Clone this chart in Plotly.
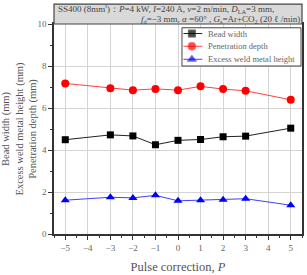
import plotly.graph_objects as go

pulse = [-5, -3, -2, -1, 0, 1, 2, 3, 5]
bead_width = [4.49, 4.72, 4.67, 4.25, 4.46, 4.50, 4.63, 4.66, 5.04]
penetration = [7.17, 6.94, 6.85, 6.91, 6.85, 7.03, 6.90, 6.82, 6.39]
excess = [1.61, 1.75, 1.72, 1.84, 1.58, 1.61, 1.63, 1.68, 1.37]

series_names = ["Bead width", "Penetration depth", "Excess weld metal height"]

x_ticks = [-5, -4, -3, -2, -1, 0, 1, 2, 3, 4, 5]
y_ticks = [0, 2, 4, 6, 8, 10]

FONT = "Liberation Serif"

styles = [
    dict(line=dict(color="#222222", width=1), marker=dict(symbol="square", size=7, color="black")),
    dict(line=dict(color="#ff4040", width=1), marker=dict(symbol="circle", size=8, color="red")),
    dict(line=dict(color="#4040ff", width=1), marker=dict(symbol="triangle-up", size=8, color="blue")),
]

fig = go.Figure()
for name, vals, st in zip(series_names, [bead_width, penetration, excess], styles):
    fig.add_trace(go.Scatter(x=pulse, y=vals, name=name, mode="lines+markers",
                             showlegend=False, **st))

# custom compact legend on an invisible overlay axis (0..1 over the plot area)
lx0, lx1, ly0, ly1 = 0.516, 0.996, 0.80, 0.982
fig.add_trace(go.Scatter(x=[lx0, lx1, lx1, lx0, lx0], y=[ly0, ly0, ly1, ly1, ly0],
                         xaxis="x2", yaxis="y2", mode="lines", fill="toself",
                         fillcolor="white", line=dict(color="#444444", width=1),
                         showlegend=False, hoverinfo="skip"))
entry_y = [0.9545, 0.894, 0.832]
for name, ey, st in zip(series_names, entry_y, styles):
    fig.add_trace(go.Scatter(x=[0.522, 0.556, 0.598], y=[ey, ey, ey], xaxis="x2", yaxis="y2",
                             mode="lines+markers", line=st["line"],
                             marker=dict(symbol=st["marker"]["symbol"], color=st["marker"]["color"],
                                         size=[0, st["marker"]["size"], 0]),
                             showlegend=False, hoverinfo="skip"))
    fig.add_annotation(xref="paper", yref="paper", x=0.614, y=ey, xanchor="left", yanchor="middle",
                       showarrow=False, text=name, font=dict(family=FONT, size=8.5, color="#666666"))

axis_common = dict(showline=True, linecolor="#333333", linewidth=1.5, mirror=True,
                   ticks="outside", ticklen=4, tickcolor="#333333",
                   showgrid=True, gridcolor="#d4d4d4", gridwidth=1, zeroline=False,
                   tickfont=dict(family=FONT, size=9, color="#666666"))

xaxis = dict(range=[-5.5, 5.5], tickvals=x_ticks,
             ticktext=[("\u2212" + str(-v)) if v < 0 else str(v) for v in x_ticks],
             minor=dict(ticks="outside", ticklen=2, tickcolor="#333333", dtick=0.5, tick0=0, showgrid=False),
             title=dict(text="Pulse correction, <i>P</i>", font=dict(family=FONT, size=12.5, color="#555555"),
                        standoff=11),
             **axis_common)
yaxis = dict(range=[0, 10], tickvals=y_ticks,
             minor=dict(ticks="outside", ticklen=2, tickcolor="#333333", dtick=1, tick0=0, showgrid=False),
             title=dict(text="Bead width (mm)<br>Excess weld metal height (mm)<br>Penetration depth (mm)",
                        font=dict(family=FONT, size=10.5, color="#555555"), standoff=0),
             **axis_common)

fig.add_shape(type="rect", xref="paper", yref="paper", x0=0, x1=1, y0=1, y1=1.095,
              fillcolor="#d9d9d9", line=dict(color="#444444", width=1.2))
fig.add_annotation(xref="paper", yref="paper", x=0.008, y=1.074, xanchor="left", yanchor="middle",
                   showarrow=False, font=dict(family=FONT, size=9, color="#444444"),
                   text="SS400 (8mm<sup>t</sup>)\uff1a<i>P</i>=4 kW, <i>I</i>=240 A, <i>v</i>=2 m/min, <i>D</i><sub>LA</sub>=3 mm,")
fig.add_annotation(xref="paper", yref="paper", x=0.998, y=1.021, xanchor="right", yanchor="middle",
                   showarrow=False, font=dict(family=FONT, size=9, color="#444444"),
                   text="<i>f</i><sub>d</sub>=\u22123 mm, <i>\u03b1</i> =60\u00b0 , <i>G</i><sub>s</sub>=Ar+CO<sub>2</sub> (20 \u2113 /min)")

fig.update_layout(
    width=307, height=275,
    margin=dict(l=52, r=3, t=24, b=31),
    paper_bgcolor="white", plot_bgcolor="white",
    font=dict(family=FONT, color="#555555"),
    xaxis=xaxis, yaxis=yaxis,
    xaxis2=dict(overlaying="x", range=[0, 1], visible=False, fixedrange=True),
    yaxis2=dict(overlaying="y", range=[0, 1], visible=False, fixedrange=True),
    showlegend=False,
)

fig.write_html("out.html")
